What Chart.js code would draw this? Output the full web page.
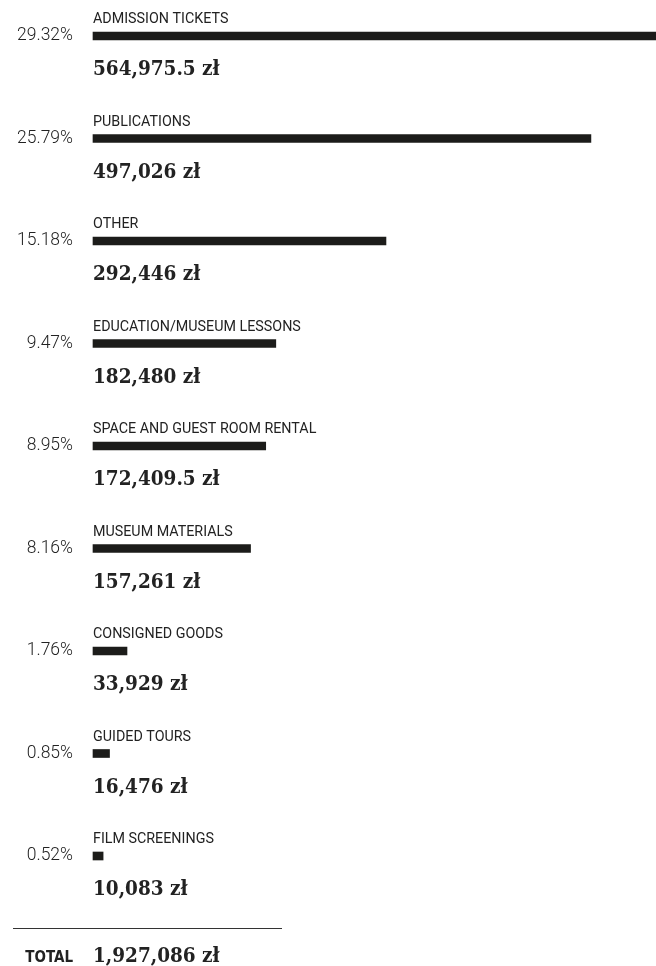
<!DOCTYPE html>
<html>
<head>
<meta charset="utf-8">
<script src="https://cdn.jsdelivr.net/npm/chart.js@4"></script>
<style>
  html, body { margin: 0; padding: 0; background: #fff; }
  #wrap { position: relative; width: 656px; height: 966px; }
</style>
</head>
<body>
<div id="wrap"><canvas id="grafico"></canvas></div>
<script>
const categorias = [
    'ADMISSION TICKETS', 'PUBLICATIONS', 'OTHER', 'EDUCATION/MUSEUM LESSONS',
    'SPACE AND GUEST ROOM RENTAL', 'MUSEUM MATERIALS', 'CONSIGNED GOODS',
    'GUIDED TOURS', 'FILM SCREENINGS'
];
const valores = [564975.5, 497026, 292446, 182480, 172409.5, 157261, 33929, 16476, 10083];
const percentuais = ['29.32%', '25.79%', '15.18%', '9.47%', '8.95%', '8.16%', '1.76%', '0.85%', '0.52%'];
const totalLabel = 'TOTAL';
const totalValor = 1927086;

const corBarra = '#1c1c1a';
const corTexto = '#222222';
const serif = '"DejaVu Serif Condensed", "DejaVu Serif", serif';

const fmt = v => v.toLocaleString('en-US', { maximumFractionDigits: 1 }) + ' zł';

// rótulos: categoria acima, percentual à esquerda, valor abaixo
const rotulos = {
    id: 'rotulos',
    afterDatasetsDraw(chart) {
        const ctx = chart.ctx;
        const y = chart.scales.y;
        const x0 = chart.chartArea.left;
        ctx.save();
        ctx.fillStyle = corTexto;
        categorias.forEach((cat, i) => {
            const cy = y.getPixelForValue(i);
            ctx.textBaseline = 'alphabetic';
            ctx.textAlign = 'left';
            ctx.font = '14.3px Roboto, sans-serif';
            ctx.fillText(cat, x0, cy - 13);
            ctx.textAlign = 'right';
            ctx.font = '300 17.5px Roboto, sans-serif';
            ctx.fillText(percentuais[i], x0 - 20, cy + 4);
            ctx.textAlign = 'left';
            ctx.font = 'bold 20.5px ' + serif;
            ctx.fillText(fmt(valores[i]), x0, cy + 39);
        });
        // linha e total
        ctx.strokeStyle = '#333';
        ctx.lineWidth = 1;
        ctx.beginPath();
        ctx.moveTo(13, 928.5);
        ctx.lineTo(282, 928.5);
        ctx.stroke();
        ctx.textAlign = 'right';
        ctx.font = 'bold 15px "DejaVu Sans Condensed", "DejaVu Sans", sans-serif';
        ctx.fillText(totalLabel, x0 - 20, 962);
        ctx.textAlign = 'left';
        ctx.font = 'bold 20.5px ' + serif;
        ctx.fillText(fmt(totalValor), x0, 962);
        ctx.restore();
    }
};

const ctx = document.getElementById('grafico').getContext('2d');
const myChart = new Chart(ctx, {
    type: 'bar',
    data: {
        labels: categorias,
        datasets: [{
            data: valores,
            backgroundColor: corBarra,
            borderWidth: 0,
            barThickness: 8,
            clip: false
        }]
    },
    options: {
        indexAxis: 'y',
        responsive: true,
        maintainAspectRatio: false,
        animation: false,
        layout: { padding: { left: 93, right: 0, top: 36, bottom: 110 } },
        scales: {
            x: { display: false, min: 0, max: 562000 },
            y: { display: false, offset: false }
        },
        plugins: {
            legend: { display: false },
            tooltip: { enabled: false }
        }
    },
    plugins: [rotulos]
});
</script>
</body>
</html>
